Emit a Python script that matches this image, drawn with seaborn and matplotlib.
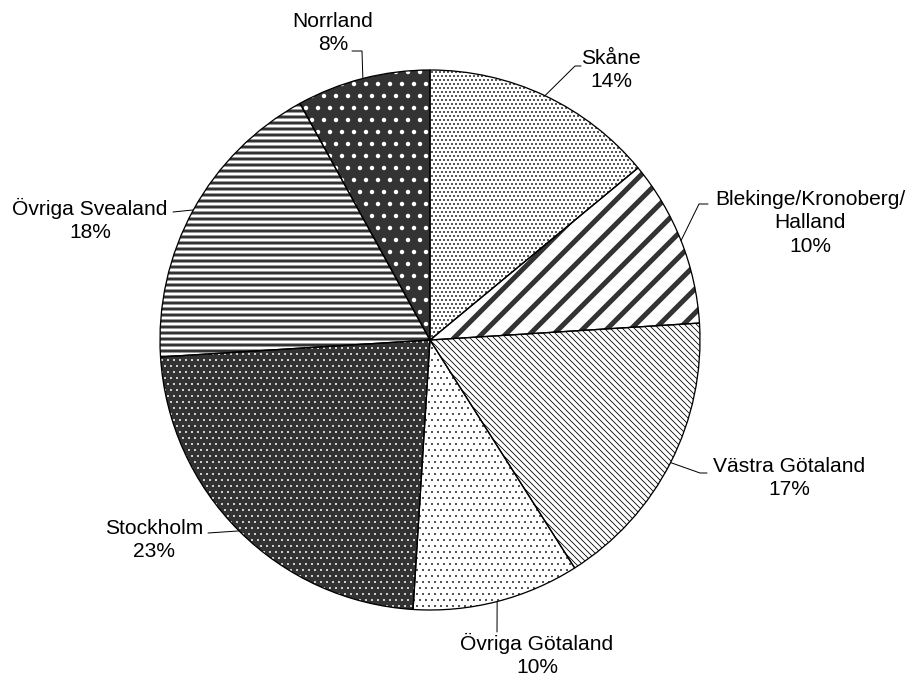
import matplotlib
matplotlib.use("Agg")
import matplotlib.pyplot as plt
from matplotlib.patches import Wedge
import numpy as np
import seaborn as sns

# Data
regions = ["Skåne", "Blekinge/Kronoberg/\nHalland", "Västra Götaland", "Övriga Götaland",
           "Stockholm", "Övriga Svealand", "Norrland"]
shares = [14, 10, 17, 10, 23, 18, 8]

# Fill styles (black and white print look)
face_colors = ["white", "white", "white", "white", "#333333", "white", "#333333"]
hatch_colors = ["#222222", "#333333", "black", "#333333", "white", "#333333", "white"]
hatches = ["...", "/", "\\\\\\\\", "..", "..", "--", "."]
hatch_widths = [1.1, 5.0, 0.8, 0.8, 0.7, 3.0, 2.0]

# label block centres and leader elbows, in pixels of the 913x680 image
label_pos = [(611, 70), (810, 223), (789, 478), (537, 655), (154, 540), (90, 220), (333, 33)]
leader_pts = [[(575, 66), (581, 66)], [(699, 204), (708, 204)], [(700, 473), (707, 473)],
              [(497, 632)], [(208, 533)], [(173, 212)], [(362, 51), (352, 51)]]

CX, CY, R = 430, 340, 270


def to_data(x, y):
    return (x - CX) / R, (CY - y) / R


sns.set_theme(style="white")
plt.rcParams['font.family'] = ['Liberation Sans', 'DejaVu Sans']

# dpi 72 so one point == one pixel
fig = plt.figure(figsize=(913 / 72, 680 / 72), dpi=72)
ax = fig.add_axes([0, 0, 1, 1])

wedges, _ = ax.pie(shares, colors=face_colors, startangle=90, counterclock=False,
                   radius=1, wedgeprops=dict(linewidth=0, edgecolor='none'))

for w, h, hc, hw in zip(wedges, hatches, hatch_colors, hatch_widths):
    with plt.rc_context({'hatch.linewidth': hw}):
        hp = Wedge(w.center, w.r, w.theta1, w.theta2, facecolor='none',
                   edgecolor=hc, linewidth=0, hatch=h)
    if hasattr(hp, 'set_hatch_linewidth'):
        hp.set_hatch_linewidth(hw)
    ax.add_patch(hp)
    ax.add_patch(Wedge(w.center, w.r, w.theta1, w.theta2, facecolor='none',
                       edgecolor='black', linewidth=1.3, zorder=5))

# labels with leader lines
for w, name, share, pos, pts in zip(wedges, regions, shares, label_pos, leader_pts):
    mid = np.deg2rad((w.theta1 + w.theta2) / 2)
    xs = [np.cos(mid) * w.r] + [to_data(*p)[0] for p in pts]
    ys = [np.sin(mid) * w.r] + [to_data(*p)[1] for p in pts]
    ax.plot(xs, ys, color='black', linewidth=1, zorder=6)
    tx, ty = to_data(*pos)
    ax.text(tx, ty, f"{name}\n{share}%", ha='center', va='center',
            multialignment='center', fontsize=21, color='black', linespacing=1.3)

ax.set_xlim(-CX / R, (913 - CX) / R)
ax.set_ylim(-(680 - CY) / R, CY / R)
ax.set_aspect('equal')
ax.axis('off')

fig.savefig('out.png', dpi=72)
